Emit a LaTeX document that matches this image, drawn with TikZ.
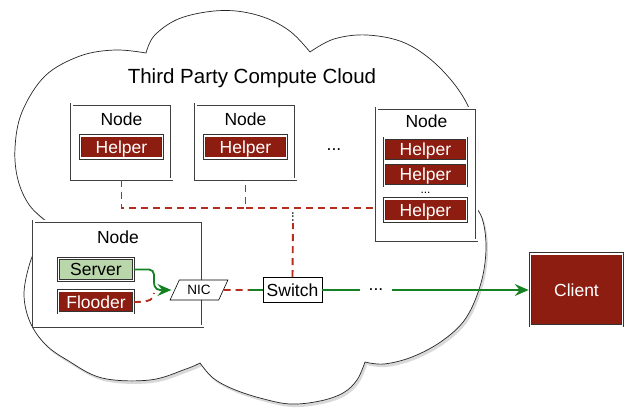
\documentclass[tikz,border=0pt]{standalone}
\usepackage{fontspec}
\setmainfont{Liberation Sans}
\usepackage{tikz}
\usetikzlibrary{positioning, shapes.geometric, shadows, arrows.meta}

\definecolor{helperred}{RGB}{142,29,17}
\definecolor{linkred}{RGB}{180,45,30}
\definecolor{servergreen}{RGB}{185,215,170}
\definecolor{flowgreen}{RGB}{20,130,35}

\begin{document}
\begin{tikzpicture}[x=1pt, y=-1pt,
    cloudline/.style = {draw=black!85, line width=0.7pt, fill=white, drop shadow={opacity=0.3, shadow xshift=2pt, shadow yshift=-3pt}},
    nodebox/.style = {draw=black!75, line width=0.6pt, double=white, double distance=2pt, fill=white, inner sep=0pt, drop shadow={opacity=0.2, shadow xshift=1.5pt, shadow yshift=-1.5pt}},
    proc/.style = {draw=black!80, line width=0.6pt, double=white, double distance=1.8pt, inner sep=0pt, minimum width=75pt, minimum height=22pt, text depth=0pt, font=\fontsize{17.5}{20}\selectfont},
    helper/.style = {proc, fill=helperred, text=white, minimum width=82pt, minimum height=22.5pt},
    txt/.style = {inner sep=0pt, text depth=0pt, font=\fontsize{17.5}{20}\selectfont},
    link/.style = {draw=linkred, line width=1.9pt, dash pattern=on 7pt off 5pt},
    flow/.style = {draw=flowgreen, line width=1.8pt},
    flowarrow/.style = {-{Stealth[length=14pt, width=12pt, inset=5pt]}}
]
\useasboundingbox (0,0) rectangle (625,409);

% the cloud
\draw[cloudline] plot[smooth, tension=0.6] coordinates {(50,224) (30,206) (18,180) (15,148) (22,112) (45,76) (80,56) (115,50) (146,53)}
    -- plot[smooth, tension=0.6] coordinates {(146,53) (154,36) (176,20) (206,12) (236,11) (266,18) (291,32) (310,52)}
    -- plot[smooth, tension=0.6] coordinates {(310,52) (334,39) (367,35) (405,43) (438,66) (465,100) (476,135) (474,175) (470,200)}
    -- plot[smooth, tension=0.6] coordinates {(470,200) (482,218) (486,248) (481,283) (466,318) (442,341) (412,357) (384,364) (365,362)}
    -- plot[smooth, tension=0.6] coordinates {(365,362) (357,380) (343,393) (320,401) (290,404) (260,398) (233,389) (213,378) (200,363)}
    -- plot[smooth, tension=0.6] coordinates {(200,363) (186,369) (150,380) (102,378) (67,360) (45,344) (30,322) (24,295) (29,266) (38,244) (50,224)}
    -- cycle;
\node[txt, font=\fontsize{20.5}{24}\selectfont] (title) at (252,76) {Third Party Compute Cloud};

% helper nodes
\node[nodebox, minimum width=100pt, minimum height=75pt] (n1) at (121.5,142) {};
\node[nodebox, minimum width=100pt, minimum height=75pt] (n2) at (245.5,142) {};
\node[nodebox, minimum width=100pt, minimum height=132pt] (n3) at (426.5,174.5) {};
\node[txt] (t1) [below=8pt of n1.north] {Node};
\node[txt] (t2) [below=8pt of n2.north] {Node};
\node[txt] (t3) [below=6.5pt of n3.north] {Node};
\node[helper] (h1) at (121.5,147) {Helper};
\node[helper] (h2) at (245.5,147) {Helper};
\node[helper] (h3a) at (425.5,149.5) {Helper};
\node[helper] (h3b) at (425.5,174.5) {Helper};
\node[txt, font=\fontsize{12}{14}\selectfont] (d3) at (425.5,192.5) {...};
\node[helper] (h3c) at (425.5,210) {Helper};
\node[txt] (d1) at (334,150) {...};

% server node
\node[nodebox, minimum width=169pt, minimum height=105pt] (n4) at (118,274) {};
\node[txt] (t4) [below=9pt of n4.north] {Node};
\node[proc, fill=servergreen] (srv) at (96,269.5) {Server};
\node[proc, fill=helperred, text=white] (fld) at (96,302) {Flooder};
\node[draw, fill=white, line width=0.6pt, trapezium, trapezium left angle=60, trapezium right angle=120, trapezium stretches=true, minimum width=58pt, minimum height=20pt, inner sep=0pt, text depth=0pt, font=\fontsize{13.5}{15}\selectfont] (nic) at (199,290) {NIC};

% network
\node[txt, draw, fill=white, line width=0.6pt, minimum width=59pt, minimum height=25pt] (sw) at (292.5,290) {Switch};
\node[txt, inner xsep=9pt] (gdots) at (376,290) {...};
\node[txt, font=\fontsize{14}{16}\selectfont] (vd) at (293,217) {\rotatebox{90}{...}};
\node[proc, fill=helperred, text=white, minimum width=92pt, minimum height=72pt, drop shadow={opacity=0.25, shadow xshift=1.5pt, shadow yshift=-1.5pt}] (cl) at (576.5,290) {Client};

\coordinate (bus) at (245.5,208);
\coordinate (join) at (154,281);
\coordinate (fjoin) at (154,293);
\coordinate (mid) at (249,290);

\draw[link] (n1.south) |- (bus) -- (n2.south);
\draw[link] (bus) -- (bus -| n3.west);
\draw[link] (sw.north) -- (vd.south);
\draw[flow, rounded corners=5pt] (srv.east) -| (join);
\draw[flow, flowarrow, shorten >=3pt] (join) .. controls (154,290) and (158,290) .. (nic.west);
\draw[link] (fld.east) .. controls (151,302) and (154,299) .. (fjoin);
\draw[link] (nic.east) -- (mid);
\draw[flow] (mid) -- (sw.west);
\draw[flow] (sw.east) -- (gdots.west);
\draw[flow, flowarrow, shorten >=1.5pt] (gdots.east) -- (cl.west);
\end{tikzpicture}
\end{document}
